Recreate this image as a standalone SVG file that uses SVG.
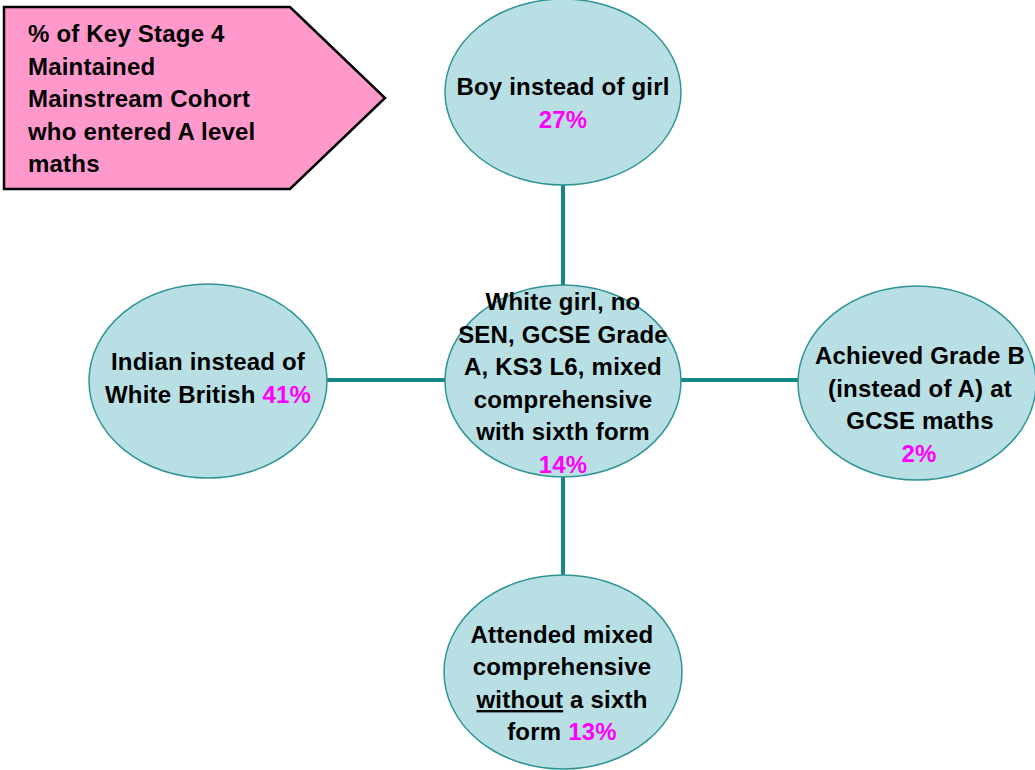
<svg xmlns="http://www.w3.org/2000/svg" width="1035" height="770" viewBox="0 0 1035 770">
<style>
  .bg { fill: #ffffff; }
  .conn { stroke: #168787; stroke-width: 4; fill: none; }
  .node { fill: #b8dfe3; stroke: #2e9494; stroke-width: 1.5; }
  .tag { fill: #ff99cc; stroke: #000000; stroke-width: 2.5; }
  text { font-family: "Liberation Sans", Arial, sans-serif; font-weight: bold; font-size: 24px; letter-spacing: 0.2px; fill: #000000; }
  .c { text-anchor: middle; }
  .pct { fill: #ff00ff; }
</style>
<rect class="bg" x="0" y="0" width="1035" height="770"/>
<g id="connectors">
  <line class="conn" x1="563" y1="185" x2="563" y2="286"/>
  <line class="conn" x1="563" y1="477" x2="563" y2="576"/>
  <line class="conn" x1="327" y1="380" x2="446" y2="380"/>
  <line class="conn" x1="681" y1="380" x2="799" y2="380"/>
</g>
<g id="title">
  <polygon class="tag" points="4,7 290,7 385,98 290,189 4,189"/>
  <text x="28" y="42">% of Key Stage 4</text>
  <text x="28" y="74.5">Maintained</text>
  <text x="28" y="107">Mainstream Cohort</text>
  <text x="28" y="139.5">who entered A level</text>
  <text x="28" y="172">maths</text>
</g>
<g id="node-top">
  <ellipse class="node" cx="563" cy="92" rx="118" ry="93"/>
  <text class="c" x="563" y="95">Boy instead of girl</text>
  <text class="c pct" x="563" y="128">27%</text>
</g>
<g id="node-left">
  <ellipse class="node" cx="208" cy="381" rx="119" ry="97"/>
  <text class="c" x="208" y="370">Indian instead of</text>
  <text class="c" x="208" y="403">White British <tspan class="pct">41%</tspan></text>
</g>
<g id="node-center">
  <ellipse class="node" cx="563" cy="381" rx="118" ry="96"/>
  <text class="c" x="563" y="310">White girl, no</text>
  <text class="c" x="563" y="342.6">SEN, GCSE Grade</text>
  <text class="c" x="563" y="375.2">A, KS3 L6, mixed</text>
  <text class="c" x="563" y="407.8">comprehensive</text>
  <text class="c" x="563" y="440.4">with sixth form</text>
  <text class="c pct" x="563" y="473">14%</text>
</g>
<g id="node-right">
  <ellipse class="node" cx="917" cy="383" rx="119" ry="97"/>
  <text class="c" x="920" y="364">Achieved Grade B</text>
  <text class="c" x="920" y="397">(instead of A) at</text>
  <text class="c" x="920" y="429">GCSE maths</text>
  <text class="c pct" x="919" y="462">2%</text>
</g>
<g id="node-bottom">
  <ellipse class="node" cx="563" cy="672" rx="119" ry="97"/>
  <text class="c" x="562" y="643">Attended mixed</text>
  <text class="c" x="562" y="675">comprehensive</text>
  <text class="c" x="562" y="708"><tspan text-decoration="underline">without</tspan> a sixth</text>
  <text class="c" x="562" y="740">form <tspan class="pct">13%</tspan></text>
</g>
</svg>
